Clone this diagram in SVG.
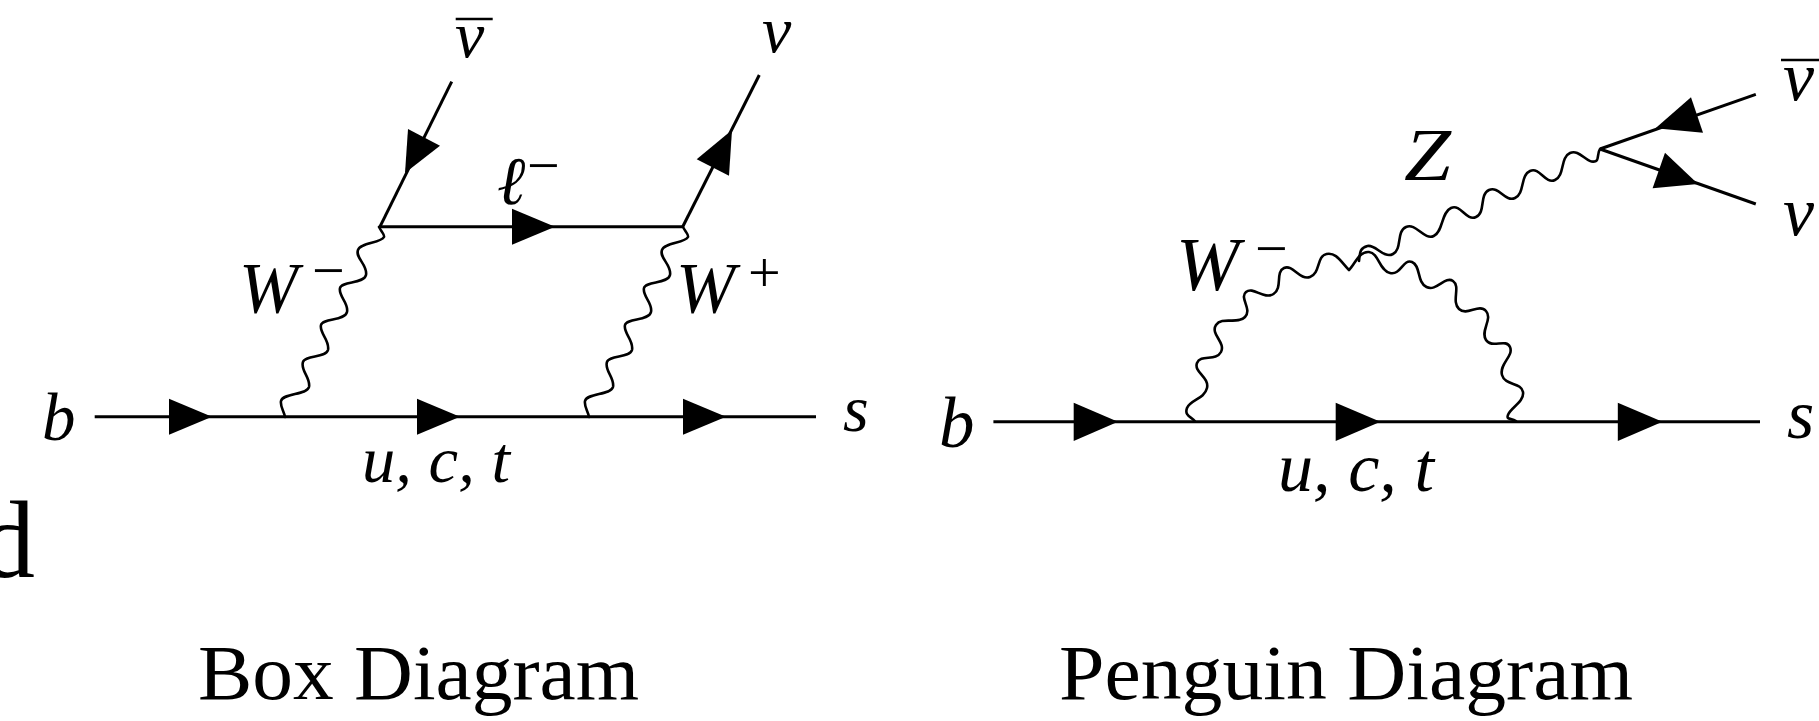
<svg xmlns="http://www.w3.org/2000/svg" width="1819" height="721" viewBox="0 0 1819 721">
<style>
text{font-family:"Liberation Serif","Times New Roman",serif;fill:#000}
.m{font-style:italic}
.up{font-style:normal}
.ln{stroke:#000;stroke-width:3;fill:none}
.wv{stroke:#000;stroke-width:2.6;fill:none;stroke-linejoin:round;stroke-linecap:round}
.bar{stroke:#000;stroke-width:2.4;fill:none}
.ah{fill:#000;stroke:none}
</style>
<defs>
<path id="arr" class="ah" d="M0,-18 L43,0 L0,18 Z"/>
<path id="boxW" class="wv" d="M379,227 C381,231 385,235 384,237 C381,243 360,243 358,250 C355,258 368,265 366,275 C364,284 342,281 340,288 C338,296 349,303 347,312 C345,321 323,318 321,325 C319,333 330,340 328,350 C326,358 305,355 303,362 C300,370 311,378 309,387 C307,395 283,393 281,401 C280,407 284,411 285,417"/>
</defs>
<g id="connectors">
<line class="ln" x1="94.7" y1="416.7" x2="816" y2="416.7"/>
<use href="#arr" x="169" y="416.7"/>
<use href="#arr" x="417" y="416.7"/>
<use href="#arr" x="683" y="416.7"/>
<line class="ln" x1="451.7" y1="81.7" x2="380" y2="226.7"/>
<path class="ah" d="M408,129 L440,145.7 L405,173 Z"/>
<line class="ln" x1="380" y1="226.7" x2="682.7" y2="226.7"/>
<use href="#arr" x="512" y="226.7"/>
<line class="ln" x1="682.7" y1="226.7" x2="759.3" y2="75"/>
<path class="ah" d="M732,130 L696.7,159.3 L729,175.7 Z"/>
<use href="#boxW"/>
<use href="#boxW" x="304"/>
<line class="ln" x1="993.4" y1="421.7" x2="1760" y2="421.7"/>
<path class="ah" d="M1073.7,402.7 L1118,421.7 L1073.7,441 Z"/>
<path class="ah" d="M1335.7,402.7 L1380.4,421.7 L1335.7,441 Z"/>
<path class="ah" d="M1617.8,402.7 L1662.5,421.7 L1617.8,441 Z"/>
<path class="wv" d="M1194.7,421 C1192,417 1184,416 1187,408 C1190,400 1204.5,399 1207,388 C1209.5,377 1193.5,372 1197,363 C1200.5,354 1216,361.5 1221,352 C1226,342.5 1210,334 1216,325 C1222,316 1237.5,325 1245,317 C1252.5,309 1239,298 1246,292 C1253,286 1264,300 1273.5,294 C1283,288 1275,272 1284,268 C1293,264 1299.5,280.5 1310,277 C1320.5,273.5 1316.5,256 1326.5,254 C1336.5,252 1341,262 1349,270 C1355,264 1359,251 1369,252 C1379,253 1379,270.5 1390,273 C1401,275.5 1403,258.5 1412,262 C1421,265.5 1416.5,282 1426.5,287 C1436.5,292 1445,275.5 1453,281 C1461,286.5 1451,301.5 1459,309 C1467,316.5 1479,303 1486,311 C1493,319 1480,331 1486,340 C1492,349 1506,338 1510,347 C1514,356 1499,364 1502,375 C1505,386 1521.5,382 1523,392 C1524.5,402 1510,408 1508,415 C1506,420 1511,418 1516,421"/>
<path class="wv" d="M1359,261 C1360,253 1359.5,248 1367.5,246 C1375.5,244 1383.5,259 1393,254 C1402.5,249 1396,231.5 1406,227 C1416,222.5 1424,240.5 1433.7,236 C1443.4,231.5 1441,212.5 1451,208 C1461,203.5 1466,221.5 1476,217 C1486,212.5 1479,194.5 1489,190 C1499,185.5 1505,202.5 1515,198 C1525,193.5 1520,175.5 1530,171 C1540,166.5 1545,184.5 1555,180 C1565,175.5 1560,157.5 1570,153 C1580,148.5 1587,165 1596,161 C1599,160 1597,153 1600,149"/>
<line class="ln" x1="1600" y1="149" x2="1755.8" y2="94.3"/>
<line class="ln" x1="1600" y1="149" x2="1755.8" y2="204"/>
<path class="ah" d="M1655.5,128.3 L1691,97.3 L1703,132.7 Z"/>
<path class="ah" d="M1665,152.7 L1652.6,188.3 L1698,184 Z"/>
</g>
<g id="box-labels">
<text id="box-b" class="m" x="42" y="440" font-size="67">b</text>
<text id="box-s" class="m" x="843" y="431" font-size="66">s</text>
<text id="box-uct" class="m" x="362" y="482" font-size="66" textLength="148" lengthAdjust="spacingAndGlyphs">u, c, t</text>
<g id="box-nubar"><text class="m" x="455" y="57" font-size="66">ν</text><line class="bar" x1="455.7" y1="19" x2="492.7" y2="19"/></g>
<text id="box-nu" class="m" x="762" y="52" font-size="66">ν</text>
<text id="box-lminus" class="m" x="497" y="204" font-size="68">ℓ<tspan class="up" x="527" y="185" font-size="58">−</tspan></text>
<text id="box-wminus" class="m" x="239" y="312" font-size="71">W<tspan class="up" x="312" y="290" font-size="58">−</tspan></text>
<text id="box-wplus" class="m" x="676" y="312" font-size="71">W<tspan class="up" x="748" y="292" font-size="58">+</tspan></text>
<text id="box-title" x="198" y="699" font-size="79" textLength="441" lengthAdjust="spacingAndGlyphs">Box Diagram</text>
</g>
<g id="penguin-labels">
<text id="p-b" class="m" x="939" y="447" font-size="71">b</text>
<text id="p-s" class="m" x="1787" y="438" font-size="70">s</text>
<text id="p-uct" class="m" x="1278" y="490.7" font-size="70" textLength="156" lengthAdjust="spacingAndGlyphs">u, c, t</text>
<text id="p-z" class="m" x="1404" y="180" font-size="73" textLength="47" lengthAdjust="spacingAndGlyphs">Z</text>
<text id="p-wminus" class="m" x="1176" y="290" font-size="76">W<tspan class="up" x="1255" y="268" font-size="58">−</tspan></text>
<g id="p-nubar"><text class="m" x="1783" y="100" font-size="70">ν</text><line class="bar" x1="1781" y1="60" x2="1819" y2="60"/></g>
<text id="p-nu" class="m" x="1783" y="235" font-size="70">ν</text>
<text id="p-title" x="1059" y="699" font-size="79" textLength="574" lengthAdjust="spacingAndGlyphs">Penguin Diagram</text>
</g>
<g id="clipped">
<text id="clip-d" x="-20" y="577" font-size="110">d</text>
</g>
</svg>
